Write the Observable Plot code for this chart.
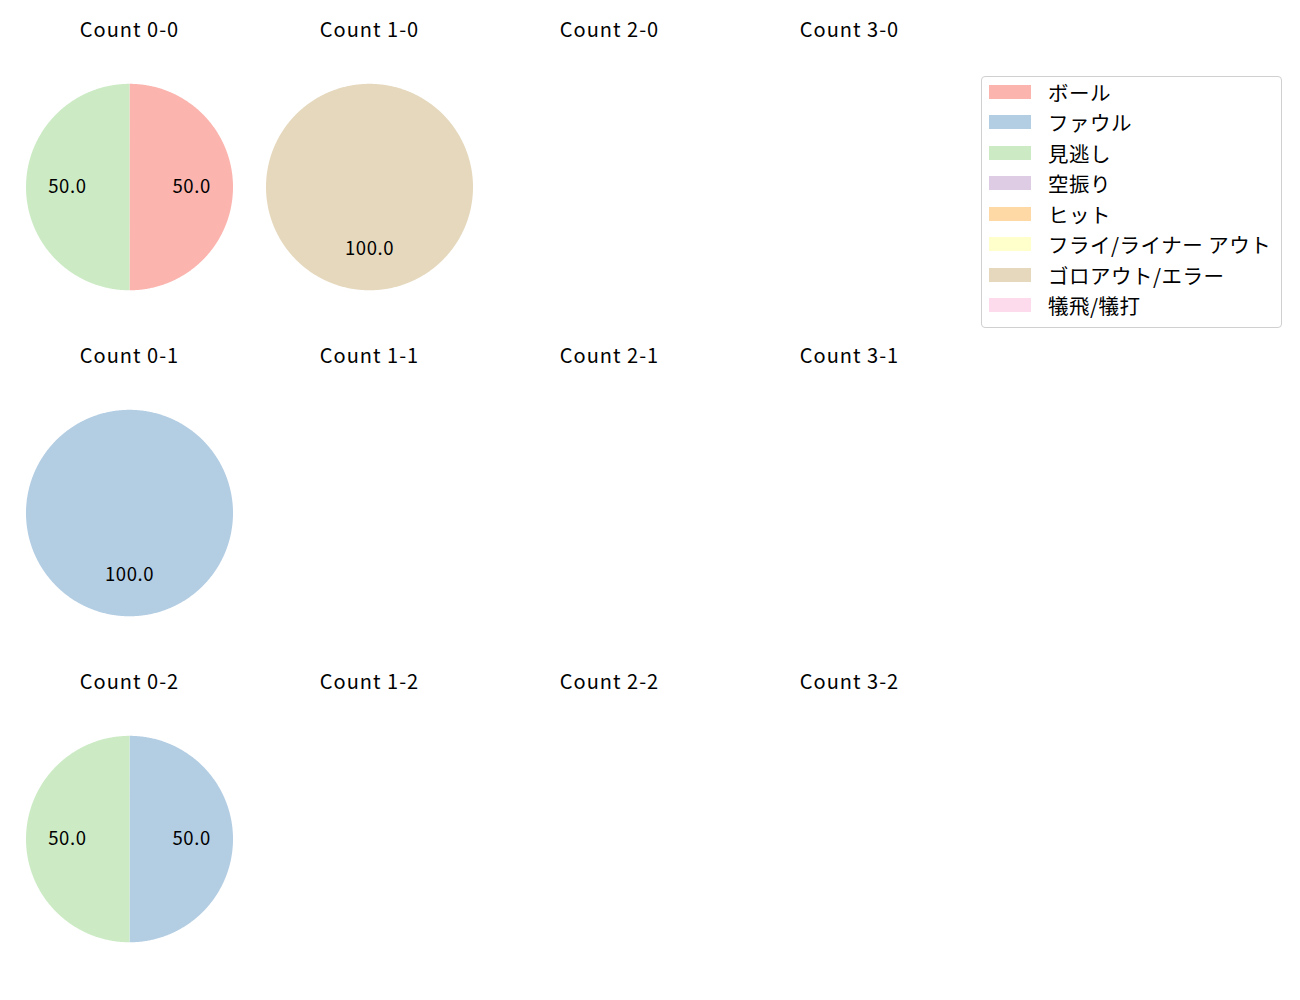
<!DOCTYPE html>
<html>
<head>
<meta charset="utf-8">
<script src="https://cdn.jsdelivr.net/npm/d3@7"></script>
<script src="https://cdn.jsdelivr.net/npm/@observablehq/plot@0.6"></script>
<style>
  html, body { margin: 0; padding: 0; background: #fff; overflow: hidden; }
  #wrap { position: relative; width: 1300px; height: 1000px; font-family: "Noto Sans CJK JP", "Noto Sans", sans-serif; }
  #legend { position: absolute; left: 981px; top: 76px; width: 301px; height: 252px; box-sizing: border-box;
            border: 1px solid #d0d0d0; border-radius: 4px; background: #fff; }
  .row { position: absolute; left: 0; height: 30px; display: flex; align-items: center; }
  .sw { width: 42px; height: 14px; margin-left: 7px; }
  .lb { margin-left: 17px; font-size: 20.5px; letter-spacing: 0.5px; color: #000; white-space: pre; }
  .ptitle { letter-spacing: 1px; }
  .plabel { letter-spacing: 0.6px; }
</style>
</head>
<body>
<div id="wrap"><div id="chart"></div><div id="legend"></div></div>
<script>
// ---- data ----
const categories = ["ボール", "ファウル", "見逃し", "空振り", "ヒット", "フライ/ライナー アウト", "ゴロアウト/エラー", "犠飛/犠打"];
const palette = ["#fbb4ae", "#b3cde3", "#ccebc5", "#decbe4", "#fed9a6", "#ffffcc", "#e5d8bd", "#fddaec"];
const balls = [0, 1, 2, 3];
const strikes = [0, 1, 2];
const pieCounts = ["0-0", "1-0", "0-1", "0-2"];
const pieCategories = [["ボール", "見逃し"], ["ゴロアウト/エラー"], ["ファウル"], ["ファウル", "見逃し"]];
const pieValues = [[50, 50], [100], [100], [50, 50]];

// ---- build slice polygons from values ----
const slicePts = [];
const labels = [];
pieCounts.forEach((cnt, i) => {
  const [b, s] = cnt.split("-").map(Number);
  const items = pieCategories[i].map((c, j) => ({cat: c, v: pieValues[i][j]}));
  const total = d3.sum(items, d => d.v);
  const arcs = d3.pie().sort(null).value(d => d.v)(items);
  arcs.forEach((a, j) => {
    const id = cnt + "_" + j;
    const full = (a.endAngle - a.startAngle) >= 2 * Math.PI - 1e-9;
    if (!full) slicePts.push({id, cat: a.data.cat, b, s, px: 0, py: 0});
    const n = Math.max(2, Math.ceil((a.endAngle - a.startAngle) / (Math.PI / 360)));
    for (let k = 0; k <= n; k++) {
      const t = a.startAngle + (a.endAngle - a.startAngle) * k / n;
      slicePts.push({id, cat: a.data.cat, b, s, px: Math.sin(t), py: Math.cos(t)});
    }
    const m = (a.startAngle + a.endAngle) / 2;
    labels.push({b, s, px: 0.6 * Math.sin(m), py: 0.6 * Math.cos(m), text: (100 * a.data.v / total).toFixed(1)});
  });
});

const titles = [];
for (const s of strikes) for (const b of balls) titles.push({b, s, text: `Count ${b}-${s}`});

const chart = Plot.plot({
  width: 1300,
  height: 1000,
  marginLeft: 9,
  marginRight: 331,
  marginTop: 9.5,
  marginBottom: 10,
  style: {fontFamily: '"Noto Sans CJK JP", "Noto Sans", sans-serif', background: "#fff"},
  fx: {domain: balls, padding: 0, axis: null},
  fy: {domain: strikes, padding: 0, axis: null},
  x: {domain: [-1.1594, 1.1594], axis: null},
  y: {domain: [-1.4573, 1.7005], axis: null},
  color: {domain: categories, range: palette},
  marks: [
    Plot.line(slicePts, {x: "px", y: "py", z: "id", fx: "b", fy: "s", fill: "cat", stroke: "none", curve: "linear-closed"}),
    Plot.text(labels, {x: "px", y: "py", fx: "b", fy: "s", text: "text", fontSize: 18.5, fill: "#000", className: "plabel"}),
    Plot.text(titles, {fx: "b", fy: "s", text: "text", frameAnchor: "top", dy: 19.5, lineAnchor: "middle", fontSize: 20, fill: "#000", className: "ptitle"})
  ]
});
document.getElementById("chart").appendChild(chart);

// ---- legend ----
const legend = document.getElementById("legend");
categories.forEach((c, i) => {
  const row = document.createElement("div");
  row.className = "row";
  row.style.top = (-0.5 + 30.57 * i) + "px";
  const sw = document.createElement("div");
  sw.className = "sw";
  sw.style.background = palette[i];
  const lb = document.createElement("span");
  lb.className = "lb";
  lb.textContent = c;
  row.appendChild(sw); row.appendChild(lb);
  legend.appendChild(row);
});
</script>
</body>
</html>
